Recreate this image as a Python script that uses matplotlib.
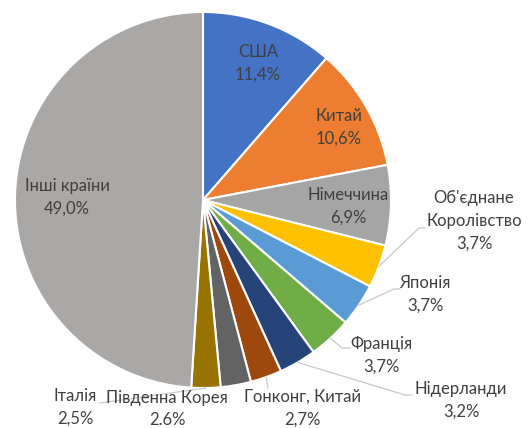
import matplotlib.pyplot as plt
import numpy as np

countries = ["США", "Китай", "Німеччина", "Об'єднане\nКоролівство", "Японія",
             "Франція", "Нідерланди", "Гонконг, Китай", "Південна Корея",
             "Італія", "Інші країни"]
shares = [11.4, 10.6, 6.9, 3.7, 3.7, 3.7, 3.2, 2.7, 2.6, 2.5, 49.0]
pct_labels = ["11,4%", "10,6%", "6,9%", "3,7%", "3,7%", "3,7%", "3,2%",
              "2,7%", "2.6%", "2,5%", "49,0%"]
colors = ["#4472C4", "#ED7D31", "#A5A5A5", "#FFC000", "#5B9BD5", "#70AD47",
          "#264478", "#9E480E", "#636363", "#997300", "#AAA7A7"]

# label centres in pixels (x, y from top)
label_pos = [(258, 63), (339, 127), (348, 206), (474, 221), (425, 294),
             (381, 355), (461, 400), (302, 408), (167, 409), (75, 407), (67, 197)]
# leader line end points in pixels (None = no leader)
leaders = [None, None, None, [(419, 228), (425, 228)], [(394, 289), (400, 289)],
           [(342, 348), (350, 348)], [(405, 395), (412, 395)], [(268, 388)],
           None, [(100, 403)], None]

W, H = 530, 428
cx, cy, R = 203, 200, 188

def px(p):
    return ((p[0] - cx) / R, (cy - p[1]) / R)

fig = plt.figure(figsize=(W / 100, H / 100), dpi=100)
ax = fig.add_axes([0, 0, 1, 1])

wedges, _ = ax.pie(shares, colors=colors, startangle=90, counterclock=False,
                   radius=1, wedgeprops=dict(edgecolor='white', linewidth=1.5))

# pie() resets limits, so set them afterwards
ax.set_xlim(-cx / R, (W - cx) / R)
ax.set_ylim(-(H - cy) / R, cy / R)
ax.set_aspect('equal')
ax.axis('off')

total = sum(shares)
cum = 0
for i, (name, pct) in enumerate(zip(countries, pct_labels)):
    mid = cum + shares[i] / 2
    cum += shares[i]
    ang = np.deg2rad(90 - 360 * mid / total)
    if leaders[i] is not None:
        pts = [(np.cos(ang), np.sin(ang))] + [px(p) for p in leaders[i]]
        xs, ys = zip(*pts)
        ax.plot(xs, ys, color='#C8C8C8', lw=0.9)
    lx, ly = px(label_pos[i])
    ax.text(lx, ly, name + "\n" + pct, ha='center', va='center',
            fontsize=12, family='Lato', color='#404040', linespacing=1.5)

plt.savefig("out.png", dpi=100)
